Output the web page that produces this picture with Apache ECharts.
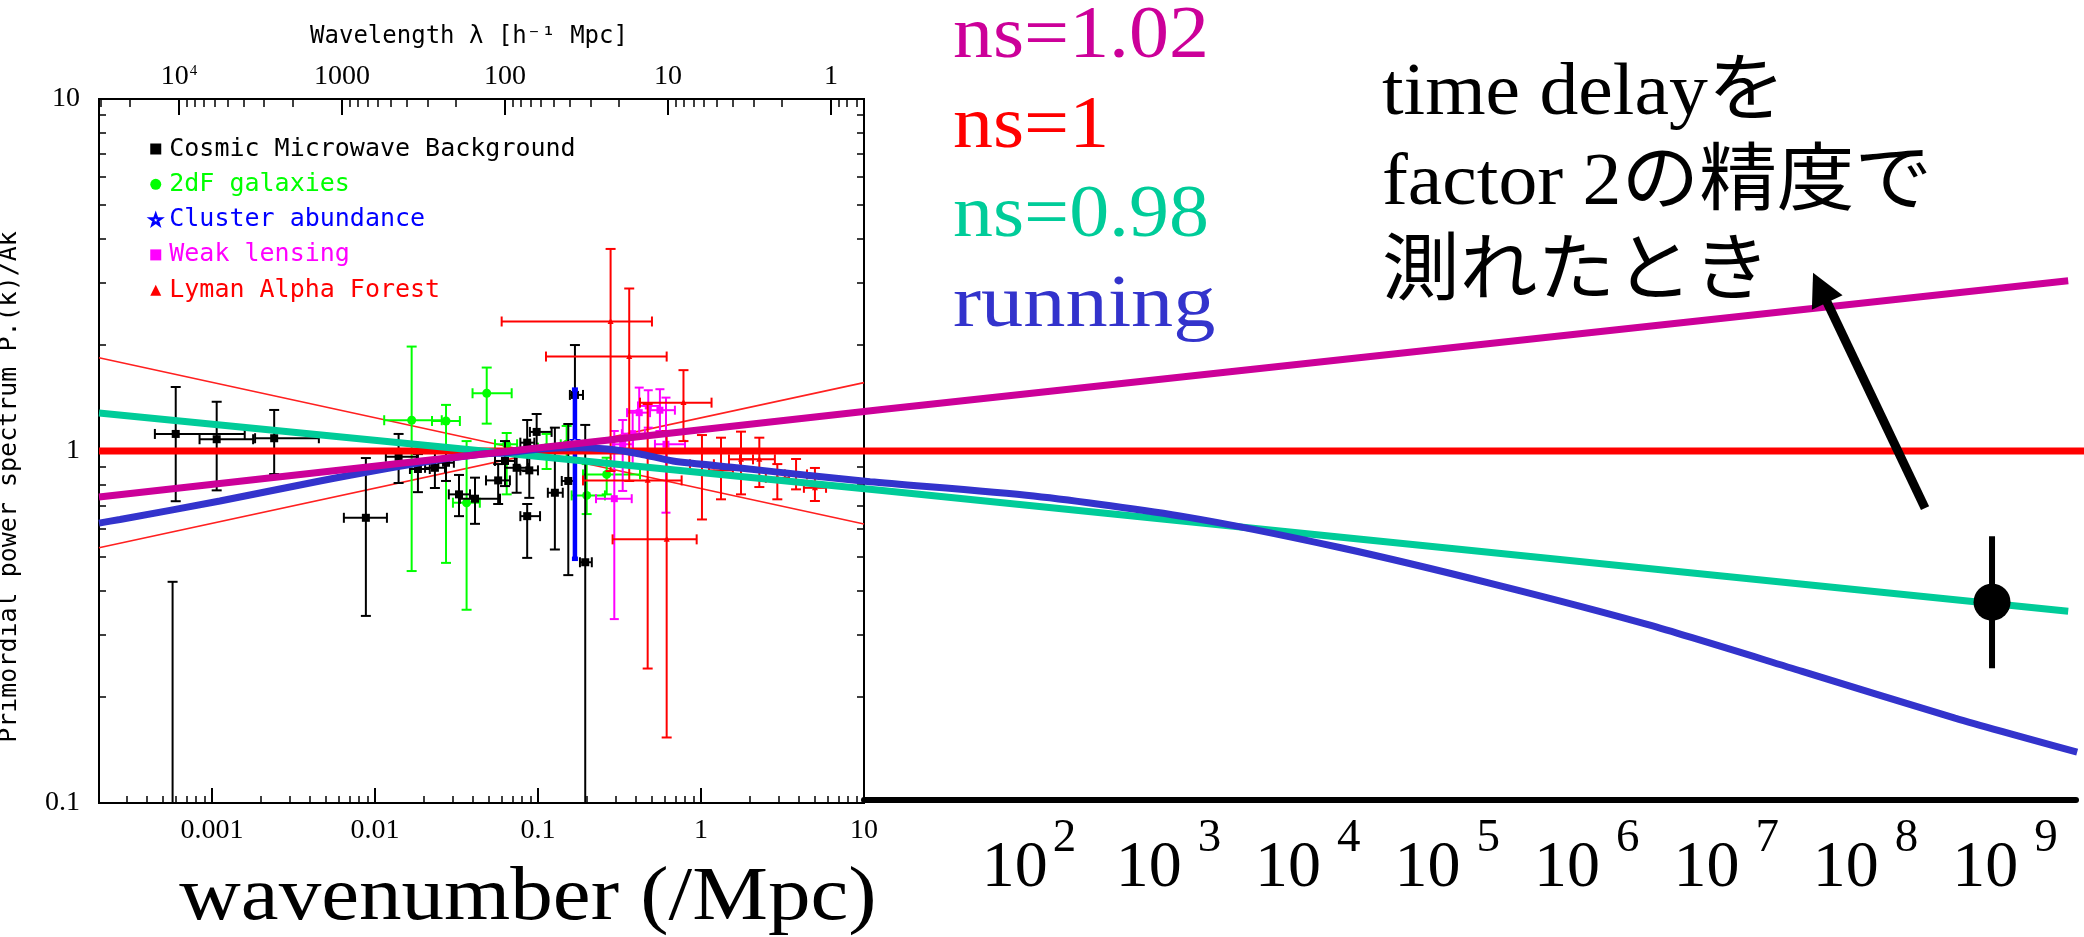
<!DOCTYPE html>
<html><head><meta charset="utf-8">
<script src="https://cdn.jsdelivr.net/npm/echarts@6/dist/echarts.min.js"></script>
<style>html,body{margin:0;padding:0;background:#fff}#c{width:2084px;height:937px}</style>
</head><body><div id="c"></div>
<script>
// ---------------- axis ranges & tick labels ----------------
const K_MIN = 2.03e-4;        // wavenumber at the inset's left edge (/Mpc)
const K_INSET_MAX = 10;       // inset's right edge
const K_EXT_MAX = 3.05e8;     // far right edge of the extended lines
const P_MIN = 0.1, P_MAX = 10;

const X_TICKS = [0.001, 0.01, 0.1, 1, 10];
const X_TICK_LABELS = ['0.001', '0.01', '0.1', '1', '10'];
const Y_TICKS = [0.1, 1, 10];
const Y_TICK_LABELS = ['0.1', '1', '10'];
const LAMBDA_TICKS = [1e4, 1000, 100, 10, 1];           // wavelength 2π/k
const LAMBDA_TICK_LABELS = ['{a|10}{s|4}', '1000', '100', '10', '1'];
const EXT_TICKS = [1e2, 1e3, 1e4, 1e5, 1e6, 1e7, 1e8, 1e9];
const EXT_TICK_EXPONENTS = ['2', '3', '4', '5', '6', '7', '8', '9'];
const EXT_AXIS_MIN = 6.557, EXT_AXIS_MAX = 3.23e9;

// ---------------- data: [k, P, kLow, kHigh, PLow, PHigh] ----------------
const CMB = [
  [6.0e-4, 1.118, 4.47e-4, 1.59e-3, 0.72, 1.52],
  [1.07e-3, 1.08, 8.4e-4, 1.79e-3, 0.773, 1.38],
  [2.41e-3, 1.087, 1.84e-3, 4.53e-3, 0.86, 1.308],
  [8.8e-3, 0.646, 6.45e-3, 0.01185, 0.34, 0.955],
  [0.01397, 0.963, 0.01167, 0.0181, 0.811, 1.118],
  [0.01836, 0.889, 0.0164, 0.0217, 0.764, 0.98],
  [0.02333, 0.896, 0.0203, 0.0269, 0.785, 1.0],
  [0.0273, 0.926, 0.0245, 0.0305, 0.822, 1.033],
  [0.0328, 0.753, 0.0284, 0.0383, 0.653, 0.855],
  [0.0411, 0.732, 0.0332, 0.0585, 0.621, 0.84],
  [0.057, 0.825, 0.048, 0.0673, 0.707, 0.918],
  [0.0628, 0.937, 0.0545, 0.0722, 0.795, 1.067],
  [0.074, 0.896, 0.0628, 0.0868, 0.761, 1.0],
  [0.0859, 1.056, 0.078, 0.095, 0.877, 1.225],
  [0.0982, 1.133, 0.0893, 0.1213, 0.989, 1.274],
  [0.0885, 0.881, 0.078, 0.1, 0.736, 1.033],
  [0.0859, 0.653, 0.078, 0.103, 0.497, 0.707],
  [0.127, 0.761, 0.115, 0.142, 0.525, 1.165],
  [0.1535, 0.822, 0.14, 0.169, 0.444, 1.193],
  [0.1686, 1.443, 0.157, 0.189, 1.04, 2.0],
  [0.195, 0.483, 0.181, 0.214, 0.05, 1.186],
  [5.74e-4, 0.03, 5.74e-4, 5.74e-4, 0.01, 0.425]
];
const GAL_2DF = [
  [0.0168, 1.223, 0.0114, 0.0257, 0.456, 1.98],
  [0.0273, 1.217, 0.0224, 0.0332, 0.481, 1.352],
  [0.0365, 0.713, 0.0301, 0.044, 0.354, 1.067],
  [0.0485, 1.459, 0.0397, 0.069, 1.196, 1.726],
  [0.0643, 1.045, 0.0545, 0.0745, 0.753, 1.125],
  [0.113, 1.022, 0.1, 0.128, 0.889, 1.118],
  [0.15, 1.045, 0.138, 0.163, 0.937, 1.178],
  [0.199, 0.748, 0.161, 0.2576, 0.662, 0.918],
  [0.264, 0.858, 0.189, 0.4225, 0.753, 0.957]
];
const CLUSTER = [
  [0.1686, 1.067, 0.1686, 0.1686, 0.494, 1.494]
];
const LENSING = [
  [0.294, 0.732, 0.227, 0.376, 0.333, 1.14],
  [0.331, 1.045, 0.288, 0.383, 0.77, 1.225],
  [0.381, 1.12, 0.327, 0.453, 0.917, 1.3],
  [0.418, 1.285, 0.352, 0.487, 1.091, 1.514],
  [0.475, 1.343, 0.411, 0.56, 1.165, 1.488],
  [0.56, 1.306, 0.487, 0.692, 1.14, 1.498],
  [0.61, 1.045, 0.522, 0.798, 0.668, 1.418]
];
const LYMAN_ALPHA = [
  [0.279, 2.333, 0.0599, 0.5004, 0.877, 3.75],
  [0.363, 1.855, 0.112, 0.616, 0.822, 2.895],
  [0.471, 0.825, 0.189, 0.761, 0.241, 1.36],
  [0.616, 0.561, 0.287, 0.941, 0.1535, 1.14],
  [0.781, 1.372, 0.4225, 1.161, 1.067, 1.697],
  [1.014, 0.917, 0.856, 1.2, 0.639, 1.11],
  [1.327, 0.881, 1.12, 1.57, 0.729, 1.091],
  [1.76, 0.947, 1.485, 2.085, 0.753, 1.135],
  [2.28, 0.947, 1.735, 2.84, 0.79, 1.091],
  [2.94, 0.839, 2.5, 3.47, 0.729, 0.918],
  [3.83, 0.858, 3.27, 4.47, 0.778, 0.949],
  [5.0, 0.786, 4.28, 5.85, 0.721, 0.895]
];
const LYA_BOUND_UPPER = [[2.03e-4, 1.84], [10, 0.62]];
const LYA_BOUND_LOWER = [[2.03e-4, 0.531], [10, 1.564]];

// model spectra: [k, P]
const NS_102 = [[2.03e-4, 0.74], [12.5, 1.31], [2.44e8, 3.045]];
const NS_100 = [[2.03e-4, 1], [3.05e8, 1]];
const NS_098 = [[2.03e-4, 1.283], [12.5, 0.774], [2.44e8, 0.3506]];
const RUNNING = [
  [2.03e-4, 0.624], [2.73e-4, 0.639], [1.12e-3, 0.721], [4.6e-3, 0.822], [0.0189, 0.926],
  [0.0441, 0.979], [0.0646, 0.989], [0.1028, 1.013], [0.164, 1.022], [0.265, 1.013],
  [0.423, 0.981], [0.673, 0.937], [1.73, 0.895], [4.47, 0.853], [10.9, 0.818],
  [110, 0.745], [960, 0.649], [8430, 0.531], [7.38e4, 0.418], [6.46e5, 0.321],
  [5.69e6, 0.2366], [4.93e7, 0.1743], [2.77e8, 0.1395]
];
// forecast point: [k, P, PLow, PHigh]
const FORECAST = [[8.32e7, 0.372, 0.2413, 0.573]];
// annotation arrow: [kTail, PTail, kHead, PHead]
const ARROW = [[3.23e7, 0.688, 6.64e6, 3.21]];

// ---------------- helpers ----------------
function minorDecadeTicks(lo, hi) {
  const out = [];
  for (let e = -6; e <= 10; e++) for (let m = 2; m <= 9; m++) {
    const v = m * Math.pow(10, e);
    if (v > lo * 1.0001 && v < hi * 0.9999) out.push(v);
  }
  return out;
}
function nearestLabel(values, labels) {
  return function (v) {
    let bi = 0, bd = Infinity;
    values.forEach((t, i) => { const d = Math.abs(Math.log10(t) - Math.log10(v)); if (d < bd) { bd = d; bi = i; } });
    return labels[bi];
  };
}
const X_MINOR = minorDecadeTicks(K_MIN, K_INSET_MAX);
const Y_MINOR = minorDecadeTicks(P_MIN, P_MAX);
const LAMBDA_K = LAMBDA_TICKS.map(l => 2 * Math.PI / l);
const LAMBDA_MINOR_K = [];
for (let e = -1; e <= 4; e++) for (let m = 2; m <= 9; m++) {
  const k = 2 * Math.PI / (m * Math.pow(10, e));
  if (k > K_MIN && k < K_INSET_MAX) LAMBDA_MINOR_K.push(k);
}

function starPoints(cx, cy, R) {
  const pts = [];
  for (let i = 0; i < 10; i++) {
    const r = i % 2 ? R * 0.45 : R;
    const a = -Math.PI / 2 + i * Math.PI / 5;
    pts.push([cx + r * Math.cos(a), cy + r * Math.sin(a)]);
  }
  return pts;
}

function errorSeries(name, data, color, marker, size, lw, cap) {
  return {
    type: 'custom', name: name, data: data, xAxisIndex: 0, yAxisIndex: 0,
    clip: true, z: 3, silent: true,
    itemStyle: { color: color },
    encode: { x: 0, y: 1 },
    renderItem: function (params, api) {
      const k = api.value(0), p = api.value(1), k0 = api.value(2), k1 = api.value(3), p0 = api.value(4), p1 = api.value(5);
      const c = api.coord([k, p]);
      const t = api.coord([k, p1]), b = api.coord([k, p0]);
      const l = api.coord([k0, p]), r = api.coord([k1, p]);
      const st = { stroke: color, lineWidth: lw };
      const ch = [];
      ch.push({ type: 'line', shape: { x1: t[0], y1: t[1], x2: b[0], y2: b[1] }, style: st });
      ch.push({ type: 'line', shape: { x1: t[0] - cap / 2, y1: t[1], x2: t[0] + cap / 2, y2: t[1] }, style: st });
      ch.push({ type: 'line', shape: { x1: b[0] - cap / 2, y1: b[1], x2: b[0] + cap / 2, y2: b[1] }, style: st });
      if (r[0] - l[0] > 1) {
        ch.push({ type: 'line', shape: { x1: l[0], y1: l[1], x2: r[0], y2: r[1] }, style: st });
        ch.push({ type: 'line', shape: { x1: l[0], y1: l[1] - cap / 2, x2: l[0], y2: l[1] + cap / 2 }, style: st });
        ch.push({ type: 'line', shape: { x1: r[0], y1: r[1] - cap / 2, x2: r[0], y2: r[1] + cap / 2 }, style: st });
      }
      const cx = c[0], cy = c[1], s = size;
      if (marker === 'square') ch.push({ type: 'rect', shape: { x: cx - s / 2, y: cy - s / 2, width: s, height: s }, style: { fill: color } });
      else if (marker === 'circle') ch.push({ type: 'circle', shape: { cx: cx, cy: cy, r: s / 2 }, style: { fill: color } });
      else if (marker === 'triangle') ch.push({ type: 'polygon', shape: { points: [[cx, cy - s * 0.6], [cx - s / 2, cy + s * 0.4], [cx + s / 2, cy + s * 0.4]] }, style: { fill: color } });
      else if (marker === 'star') ch.push({ type: 'polygon', shape: { points: starPoints(cx, cy, s / 2) }, style: { fill: '#fff', stroke: color, lineWidth: 1.5 } });
      return { type: 'group', children: ch };
    }
  };
}

function modelLine(name, data, color, z, smooth) {
  return {
    type: 'line', name: name, data: data, xAxisIndex: 4, yAxisIndex: 4,
    symbol: 'none', smooth: smooth || false, z: z, silent: true,
    lineStyle: { color: color, width: 7, cap: 'butt' }
  };
}

const serifFont = '"Liberation Serif", "Times New Roman", serif';
const monoFont = '"DejaVu Sans Mono", monospace';
const starIcon = 'path://M0,-10L2.35,-3.24L9.51,-3.09L3.8,1.24L5.88,8.09L0,4L-5.88,8.09L-3.8,1.24L-9.51,-3.09L-2.35,-3.24Z';

const tickAxisBase = {
  axisLine: { show: false, onZero: false },
  splitLine: { show: false },
  axisLabel: { show: false }
};

const option = {
  animation: false,
  backgroundColor: '#ffffff',
  grid: [
    { left: 99, top: 99, width: 765, height: 704, show: true, borderColor: '#000', borderWidth: 2, backgroundColor: 'transparent' },
    { left: 99, top: 99, width: 1985, height: 704, show: false },
    { left: 864, top: 99, width: 1212, height: 701, show: false }
  ],
  xAxis: [
    Object.assign({}, tickAxisBase, {
      gridIndex: 0, type: 'log', logBase: 10, min: K_MIN, max: K_INSET_MAX, position: 'bottom',
      axisTick: { inside: true, length: 15, lineStyle: { color: '#000', width: 2 }, customValues: X_TICKS },
      axisLabel: { show: true, customValues: X_TICKS, formatter: nearestLabel(X_TICKS, X_TICK_LABELS), margin: 14,
        fontFamily: serifFont, fontSize: 28, color: '#000' }
    }),
    Object.assign({}, tickAxisBase, {
      gridIndex: 0, type: 'log', logBase: 10, min: K_MIN, max: K_INSET_MAX, position: 'bottom',
      axisTick: { inside: true, length: 7, lineStyle: { color: '#000', width: 1.5 }, customValues: X_MINOR }
    }),
    Object.assign({}, tickAxisBase, {
      gridIndex: 0, type: 'log', logBase: 10, min: K_MIN, max: K_INSET_MAX, position: 'top',
      axisTick: { inside: true, length: 16, lineStyle: { color: '#000', width: 2 }, customValues: LAMBDA_K },
      axisLabel: { show: true, customValues: LAMBDA_K, formatter: nearestLabel(LAMBDA_K, LAMBDA_TICK_LABELS), margin: 8,
        fontFamily: serifFont, fontSize: 28, lineHeight: 28, color: '#000',
        rich: { a: { fontFamily: serifFont, fontSize: 28, lineHeight: 28, color: '#000' },
                s: { fontFamily: serifFont, fontSize: 15, color: '#000', padding: [0, 0, 12, 1] } } }
    }),
    Object.assign({}, tickAxisBase, {
      gridIndex: 0, type: 'log', logBase: 10, min: K_MIN, max: K_INSET_MAX, position: 'top',
      axisTick: { inside: true, length: 8, lineStyle: { color: '#000', width: 1.5 }, customValues: LAMBDA_MINOR_K }
    }),
    { gridIndex: 1, type: 'log', logBase: 10, min: K_MIN, max: K_EXT_MAX, show: false },
    {
      gridIndex: 2, type: 'log', logBase: 10, min: EXT_AXIS_MIN, max: EXT_AXIS_MAX, position: 'bottom',
      axisLine: { show: true, onZero: false, lineStyle: { color: '#000', width: 6 } },
      axisTick: { show: false }, splitLine: { show: false },
      axisLabel: {
        customValues: EXT_TICKS, margin: 34,
        formatter: function (v) {
          const e = nearestLabel(EXT_TICKS, EXT_TICK_EXPONENTS)(v);
          return '{b|10}{' + (e === '2' ? 's2' : 's') + '|' + e + '}';
        },
        rich: {
          b: { fontFamily: serifFont, fontSize: 66, lineHeight: 70, color: '#000' },
          s: { fontFamily: serifFont, fontSize: 47, lineHeight: 20, color: '#000', padding: [0, 0, 60, 16] },
          s2: { fontFamily: serifFont, fontSize: 47, lineHeight: 20, color: '#000', padding: [0, 0, 60, 5] }
        }
      }
    }
  ],
  yAxis: [
    Object.assign({}, tickAxisBase, {
      gridIndex: 0, type: 'log', logBase: 10, min: P_MIN, max: P_MAX, position: 'left',
      axisTick: { inside: true, length: 14, lineStyle: { color: '#000', width: 2 }, customValues: Y_TICKS },
      axisLabel: { show: true, customValues: Y_TICKS, formatter: nearestLabel(Y_TICKS, Y_TICK_LABELS), margin: 19,
        fontFamily: serifFont, fontSize: 28, color: '#000' }
    }),
    Object.assign({}, tickAxisBase, {
      gridIndex: 0, type: 'log', logBase: 10, min: P_MIN, max: P_MAX, position: 'left',
      axisTick: { inside: true, length: 7, lineStyle: { color: '#000', width: 1.5 }, customValues: Y_MINOR }
    }),
    Object.assign({}, tickAxisBase, {
      gridIndex: 0, type: 'log', logBase: 10, min: P_MIN, max: P_MAX, position: 'right',
      axisTick: { inside: true, length: 14, lineStyle: { color: '#000', width: 2 }, customValues: Y_TICKS }
    }),
    Object.assign({}, tickAxisBase, {
      gridIndex: 0, type: 'log', logBase: 10, min: P_MIN, max: P_MAX, position: 'right',
      axisTick: { inside: true, length: 7, lineStyle: { color: '#000', width: 1.5 }, customValues: Y_MINOR }
    }),
    { gridIndex: 1, type: 'log', logBase: 10, min: P_MIN, max: P_MAX, show: false },
    { gridIndex: 2, type: 'value', min: 0, max: 1, show: false }
  ],
  legend: {
    orient: 'vertical', left: 144, top: 129, itemWidth: 11, itemHeight: 11, itemGap: 5.3,
    selectedMode: false,
    textStyle: { fontFamily: monoFont, fontSize: 25, lineHeight: 30, padding: [0, 0, 0, 3] },
    data: [
      { name: 'Cosmic Microwave Background', icon: 'rect', textStyle: { color: '#000000' } },
      { name: '2dF galaxies', icon: 'circle', textStyle: { color: '#00FF00' } },
      { name: 'Cluster abundance', icon: starIcon, itemStyle: { color: '#ffffff', borderColor: '#0000FF', borderWidth: 2.5 }, textStyle: { color: '#0000FF' } },
      { name: 'Weak lensing', icon: 'rect', textStyle: { color: '#FF00FF' } },
      { name: 'Lyman Alpha Forest', icon: 'triangle', textStyle: { color: '#FF0000' } }
    ]
  },
  series: [
    { type: 'line', name: 'Lya bound upper', data: LYA_BOUND_UPPER, xAxisIndex: 0, yAxisIndex: 0, symbol: 'none', z: 2, silent: true,
      lineStyle: { color: '#FF2020', width: 1.6 } },
    { type: 'line', name: 'Lya bound lower', data: LYA_BOUND_LOWER, xAxisIndex: 0, yAxisIndex: 0, symbol: 'none', z: 2, silent: true,
      lineStyle: { color: '#FF2020', width: 1.6 } },
    errorSeries('2dF galaxies', GAL_2DF, '#00FF00', 'circle', 9, 2, 10),
    errorSeries('Cosmic Microwave Background', CMB, '#000000', 'square', 8, 2, 10),
    errorSeries('Weak lensing', LENSING, '#FF00FF', 'square', 7, 2, 9),
    errorSeries('Lyman Alpha Forest', LYMAN_ALPHA, '#FF0000', 'triangle', 6, 2, 10),
    errorSeries('Cluster abundance', CLUSTER, '#0000FF', 'star', 9, 4.5, 6),
    modelLine('ns=1', NS_100, '#FF0000', 4),
    modelLine('ns=0.98', NS_098, '#00CC99', 5),
    modelLine('running', RUNNING, '#3333CC', 6, 0.25),
    modelLine('ns=1.02', NS_102, '#CC0099', 7),
    {
      type: 'custom', name: 'forecast', data: FORECAST, xAxisIndex: 4, yAxisIndex: 4, z: 8, silent: true,
      itemStyle: { color: '#000' },
      renderItem: function (params, api) {
        const c = api.coord([api.value(0), api.value(1)]);
        const lo = api.coord([api.value(0), api.value(2)]);
        const hi = api.coord([api.value(0), api.value(3)]);
        return { type: 'group', children: [
          { type: 'line', shape: { x1: lo[0], y1: lo[1], x2: hi[0], y2: hi[1] }, style: { stroke: '#000', lineWidth: 6 } },
          { type: 'circle', shape: { cx: c[0], cy: c[1], r: 18.5 }, style: { fill: '#000' } }
        ] };
      }
    },
    {
      type: 'custom', name: 'arrow', data: ARROW, xAxisIndex: 4, yAxisIndex: 4, z: 8, silent: true,
      itemStyle: { color: '#000' },
      renderItem: function (params, api) {
        const tail = api.coord([api.value(0), api.value(1)]);
        const head = api.coord([api.value(2), api.value(3)]);
        const dx = tail[0] - head[0], dy = tail[1] - head[1];
        const len = Math.sqrt(dx * dx + dy * dy);
        const ux = dx / len, uy = dy / len, px = -uy, py = ux;
        const hl = 33, hw = 17;
        const base = [head[0] + ux * hl, head[1] + uy * hl];
        return { type: 'group', children: [
          { type: 'line', shape: { x1: tail[0], y1: tail[1], x2: base[0] - ux * 2, y2: base[1] - uy * 2 }, style: { stroke: '#000', lineWidth: 9 } },
          { type: 'polygon', shape: { points: [head, [base[0] + px * hw, base[1] + py * hw], [base[0] - px * hw, base[1] - py * hw]] }, style: { fill: '#000' } }
        ] };
      }
    }
  ],
  graphic: [
    { type: 'text', x: 469, y: 37, style: { text: 'Wavelength λ [h⁻¹ Mpc]', font: '24px ' + monoFont, fill: '#000', align: 'center', verticalAlign: 'middle' } },
    { type: 'text', x: 9, y: 487, rotation: Math.PI / 2, style: { text: 'Primordial power spectrum P.(k)/Ak', font: '25px ' + monoFont, fill: '#000', align: 'center', verticalAlign: 'middle' } },
    { type: 'text', x: 528, y: 899, scaleX: 1.12, style: { text: 'wavenumber (/Mpc)', font: '76px ' + serifFont, fill: '#000', align: 'center', verticalAlign: 'middle' } },
    { type: 'text', x: 953, y: 38, scaleX: 1.08, style: { text: 'ns=1.02', font: '74px ' + serifFont, fill: '#CC0099', align: 'left', verticalAlign: 'middle' } },
    { type: 'text', x: 953, y: 128, scaleX: 1.08, style: { text: 'ns=1', font: '74px ' + serifFont, fill: '#FF0000', align: 'left', verticalAlign: 'middle' } },
    { type: 'text', x: 953, y: 217, scaleX: 1.08, style: { text: 'ns=0.98', font: '74px ' + serifFont, fill: '#00CC99', align: 'left', verticalAlign: 'middle' } },
    { type: 'text', x: 953, y: 307, scaleX: 1.14, style: { text: 'running', font: '74px ' + serifFont, fill: '#3333CC', align: 'left', verticalAlign: 'middle' } },
    { type: 'text', x: 1382, y: 95, scaleX: 1.05, style: { text: 'time delayを', font: '74px "Liberation Serif", "Noto Sans CJK JP", serif', fill: '#000', align: 'left', verticalAlign: 'middle' } },
    { type: 'text', x: 1382, y: 185, scaleX: 1.05, style: { text: 'factor 2の精度で', font: '74px "Liberation Serif", "Noto Sans CJK JP", serif', fill: '#000', align: 'left', verticalAlign: 'middle' } },
    { type: 'text', x: 1382, y: 275, scaleX: 1.05, style: { text: '測れたとき', font: '74px "Liberation Serif", "Noto Sans CJK JP", serif', fill: '#000', align: 'left', verticalAlign: 'middle' } }
  ]
};

const chart = echarts.init(document.getElementById('c'), null, { renderer: 'canvas', width: 2084, height: 937 });
chart.setOption(option);
</script>
</body></html>
